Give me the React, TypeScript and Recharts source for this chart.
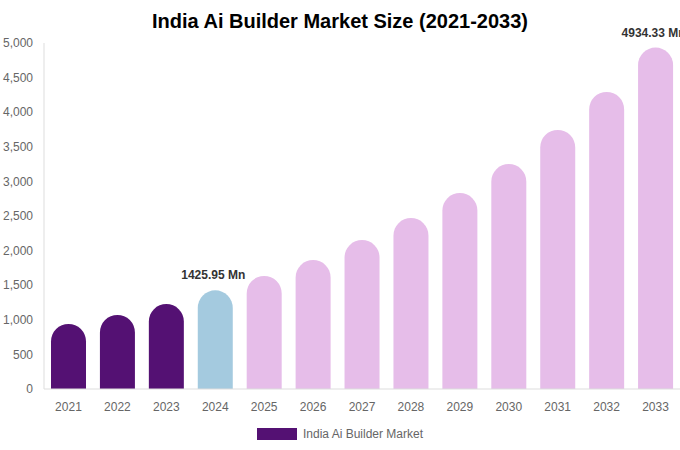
import React from "react";
import { BarChart, Bar, XAxis, YAxis, Legend, LabelList, Cell } from "recharts";

const YEARS = ["2021", "2022", "2023", "2024", "2025", "2026", "2027", "2028", "2029", "2030", "2031", "2032", "2033"];
const VALUES = [940, 1070, 1228, 1425.95, 1633, 1864, 2153, 2471, 2832, 3251, 3743, 4292, 4934.33];
const Y_TICKS = [0, 500, 1000, 1500, 2000, 2500, 3000, 3500, 4000, 4500, 5000];
const LABELLED = [3, 12];

const HISTORIC = "#541173";
const BASE_YEAR = "#a4cadf";
const FORECAST = "#e6bde9";

const data = YEARS.map((year, i) => ({ year, value: VALUES[i] }));

function barColor(i: number) {
  if (i < 3) return HISTORIC;
  if (i === 3) return BASE_YEAR;
  return FORECAST;
}

function ValueLabel({ x, y, width, value, index }: any) {
  if (!LABELLED.includes(index)) return null;
  return (
    <text
      x={x + width / 2 - 2}
      y={y - 11}
      textAnchor="middle"
      fontSize={12}
      fontWeight="bold"
      fill="#333"
    >
      {`${value} Mn`}
    </text>
  );
}

function LegendContent() {
  return (
    <div style={{ display: "flex", justifyContent: "center", alignItems: "center", height: 20 }}>
      <span style={{ display: "inline-block", width: 40, height: 12, background: HISTORIC, marginRight: 6 }} />
      <span style={{ fontSize: 12, color: "#666" }}>India Ai Builder Market</span>
    </div>
  );
}

export default function App() {
  return (
    <div
      style={{
        position: "absolute",
        left: 0,
        top: 0,
        width: 680,
        height: 450,
        background: "#fff",
        fontFamily: "'Liberation Sans', Arial, sans-serif",
        overflow: "hidden",
      }}
    >
      <div
        style={{
          position: "absolute",
          top: 8,
          left: 0,
          width: 680,
          textAlign: "center",
          fontSize: 20,
          fontWeight: "bold",
          color: "#000",
          lineHeight: "26px",
          zIndex: 1,
        }}
      >
        India Ai Builder Market Size (2021-2033)
      </div>
      <BarChart
        width={680}
        height={450}
        data={data}
        margin={{ top: 43, right: 0, left: 0, bottom: 6 }}
        style={{ overflow: "visible" }}
      >
        <XAxis
          dataKey="year"
          height={35}
          tickLine={false}
          tickMargin={7}
          axisLine={{ stroke: "#ddd" }}
          tick={{ fontSize: 12, fill: "#666" }}
        />
        <YAxis
          width={44}
          domain={[0, 5000]}
          ticks={Y_TICKS}
          interval={0}
          tickLine={false}
          tickMargin={5}
          axisLine={{ stroke: "#ddd" }}
          tick={{ fontSize: 12, fill: "#666" }}
          tickFormatter={(v: number) => v.toLocaleString("en-US")}
        />
        <Legend verticalAlign="bottom" content={<LegendContent />} />
        <Bar dataKey="value" barSize={35} radius={[18, 18, 0, 0]} isAnimationActive={false}>
          {data.map((d, i) => (
            <Cell key={d.year} fill={barColor(i)} />
          ))}
          <LabelList dataKey="value" content={<ValueLabel />} />
        </Bar>
      </BarChart>
    </div>
  );
}
